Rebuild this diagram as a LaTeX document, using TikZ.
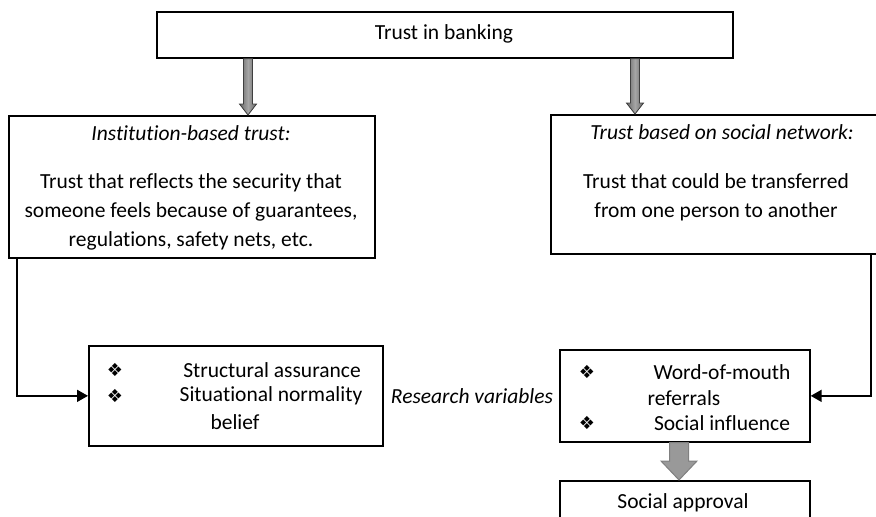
\documentclass[tikz,border=0pt]{standalone}
\usepackage{fontspec}
\setmainfont{Carlito}[Ligatures=NoCommon]
\newfontfamily\bulletfont{DejaVu Sans}
\usetikzlibrary{arrows.meta,calc}
\newcommand\garrow[7]{%
  \filldraw[#6,#7] ($(#1)+(-#3,0)$) -- ($(#2)+(-#3,-#5)$) -- ($(#2)+(-#4,-#5)$) -- (#2)
    -- ($(#2)+(#4,-#5)$) -- ($(#2)+(#3,-#5)$) -- ($(#1)+(#3,0)$) -- cycle;}
\begin{document}
\begin{tikzpicture}[x=1pt,y=-1pt,
  box/.style={draw=black, line width=1.7pt, fill=white, inner sep=0pt, anchor=north west},
  txt/.style={font=\fontsize{21.5}{29}\selectfont, inner sep=0pt, align=center},
  itxt/.style={txt, font=\fontsize{21.5}{29}\selectfont\itshape},
  bul/.style={font=\bulletfont\fontsize{18}{20}\selectfont, inner sep=0pt},
  conn/.style={line width=1.7pt, -{Triangle[length=11pt,width=12pt]}},
  smallarrow/.style={shading=axis, left color=black!60, right color=black!60, middle color=black!35, shading angle=90},
  bigarrow/.style={fill=black!40, draw=black!50, line width=1pt},
]
\useasboundingbox (0,0) rectangle (876,517);
\clip (0,0) rectangle (876,517);

% boxes
\node[box, minimum width=576pt, minimum height=46pt] (top) at (156,11) {};
\node[box, minimum width=366pt, minimum height=142pt] (left) at (8,115) {};
\node[box, minimum width=336pt, minimum height=139pt] (right) at (550,114) {};
\node[box, minimum width=294pt, minimum height=100pt] (bl) at (88,345) {};
\node[box, minimum width=250pt, minimum height=92pt] (br) at (559,349) {};
\node[box, minimum width=250pt, minimum height=60pt] (sa) at (559,480) {};

% texts
\node[txt] (ttop) at (444,34) {Trust in banking};
\node[itxt] (tlt) at (191,133) {Institution-based trust:};
\node[txt] (tlb) at (191,212) {Trust that reflects the security that\\someone feels because of guarantees,\\regulations, safety nets, etc.};
\node[itxt] (trt) at (722,132) {Trust based on social network:};
\node[txt] (trb) at (716,197) {Trust that could be transferred\\from one person to another};

\node[bul] (b1) at (115,370) {❖};
\node[bul] (b2) at (115,396) {❖};
\node[txt] (s1) at (272,370) {Structural assurance};
\node[txt] (s2) at (271,396) {Situational normality};
\node[txt] (s3) at (235,422) {belief};

\node[itxt] (rv) at (472,396) {Research variables};

\node[bul] (b3) at (587,372) {❖};
\node[bul] (b4) at (587,423) {❖};
\node[txt] (w1) at (722,372) {Word-of-mouth};
\node[txt] (w2) at (684,398) {referrals};
\node[txt] (w3) at (722,423) {Social influence};

\node[txt] (tsa) at (683,503) {Social approval};

% gray arrows
\coordinate (ga) at (248,0);
\coordinate (gb) at (635,0);
\coordinate (gc) at (679,0);
\coordinate (a1) at (top.south -| ga);
\coordinate (a2) at (left.north -| ga);
\coordinate (a3) at (top.south -| gb);
\coordinate (a4) at (right.north -| gb);
\coordinate (a5) at (br.south -| gc);
\coordinate (a6) at (sa.north -| gc);
\garrow{a1}{a2}{4.5}{8.5}{11}{smallarrow}{draw=black!75,line width=0.8pt}
\garrow{a3}{a4}{4.5}{8.5}{11}{smallarrow}{draw=black!75,line width=0.8pt}
\garrow{a5}{a6}{9.5}{18}{19}{bigarrow}{}

% connectors
\coordinate (lx) at (17,0);
\coordinate (rx) at (871,0);
\draw[conn] (left.south -| lx) |- (bl.west);
\draw[conn] (right.south -| rx) |- (br.east);
\end{tikzpicture}
\end{document}
